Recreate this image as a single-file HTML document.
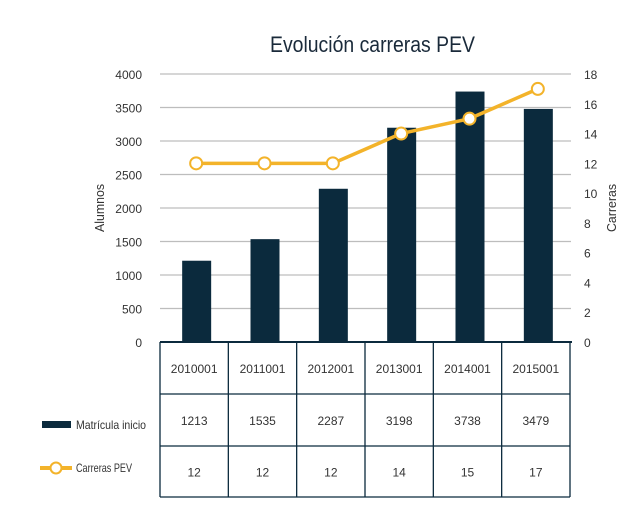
<!DOCTYPE html>
<html><head><meta charset="utf-8"><style>
body{margin:0;background:#fff;}
svg text{font-family:"Liberation Sans Narrow","Liberation Sans",sans-serif;fill:#333;}
</style></head><body>
<svg id="c" width="626" height="515">
<text x="270" y="52" font-size="22" textLength="205" lengthAdjust="spacingAndGlyphs" style="fill:#1a2a3a">Evolución carreras PEV</text>
<g id="grid"></g><g id="bars"></g><g id="line"></g><g id="axes"></g><g id="table"></g>
<text transform="translate(104,208) rotate(-90)" font-size="13" text-anchor="middle" textLength="48" lengthAdjust="spacingAndGlyphs">Alumnos</text>
<text transform="translate(616,208) rotate(-90)" font-size="13" text-anchor="middle" textLength="48" lengthAdjust="spacingAndGlyphs">Carreras</text>
<rect x="42" y="421" width="29" height="7" fill="#0b2a3d"/>
<text x="76" y="429" font-size="12" textLength="70" lengthAdjust="spacingAndGlyphs">Matrícula inicio</text>
<line x1="40" y1="468" x2="72" y2="468" stroke="#f3b32a" stroke-width="4"/>
<circle cx="56" cy="468" r="5.5" fill="#fff" stroke="#f3b32a" stroke-width="2"/>
<text x="76" y="472" font-size="12" textLength="56" lengthAdjust="spacingAndGlyphs">Carreras PEV</text>
</svg>
<script>
const categories=["2010001","2011001","2012001","2013001","2014001","2015001"];
const matricula=[1213,1535,2287,3198,3738,3479];
const carreras=[12,12,12,14,15,17];
const leftTicks=[0,500,1000,1500,2000,2500,3000,3500,4000];
const rightTicks=[0,2,4,6,8,10,12,14,16,18];
const NS="http://www.w3.org/2000/svg";
const X0=160,X1=570,Y0=342,Y1=74,colW=(X1-X0)/categories.length;
const yL=v=>Y0-(v/4000)*(Y0-Y1);
const yR=v=>Y0-(v/18)*(Y0-Y1);
const xC=i=>X0+colW*(i+0.5)+2;
function mk(p,t,a){const e=document.createElementNS(NS,t);for(const k in a)e.setAttribute(k,a[k]);document.getElementById(p).appendChild(e);return e;}
leftTicks.forEach(v=>{
 if(v>0){const g=mk('grid','line',{x1:X0,x2:X1+1,y1:yL(v),y2:yL(v),stroke:'#bdbdbd','stroke-width':1.3});
 
 }
 const t=mk('axes','text',{x:142,y:yL(v)+5,'font-size':12,'text-anchor':'end'});t.textContent=v;
 
 
});
rightTicks.forEach(v=>{
 const t=mk('axes','text',{x:584,y:yR(v)+5,'font-size':12});t.textContent=v;
 
 
});
matricula.forEach((v,i)=>{
 const b=mk('bars','rect',{x:xC(i)-14,y:yL(v),width:29,height:Y0-yL(v),fill:'#0b2a3d'});
 
 
});
const pl=mk('line','polyline',{points:carreras.map((v,i)=>xC(i)+','+yR(v)).join(' '),fill:'none',stroke:'#f3b32a','stroke-width':3.5});


carreras.forEach((v,i)=>{
 const c=mk('line','circle',{cx:xC(i),cy:yR(v),r:6,fill:'#fff',stroke:'#f3b32a','stroke-width':2});
 
 
});
const rows=[342,394,446,497];
mk('table','line',{x1:X0,x2:X1+2,y1:342,y2:342,stroke:'#0b2a3d','stroke-width':2});
rows.slice(1).forEach(y=>mk('table','line',{x1:X0,x2:X1,y1:y,y2:y,stroke:'#0b2a3d','stroke-width':1.3}));
for(let i=0;i<=categories.length;i++)mk('table','line',{x1:X0+colW*i,x2:X0+colW*i,y1:342,y2:497,stroke:'#0b2a3d','stroke-width':1.3});
[categories,matricula,carreras].forEach((arr,r)=>arr.forEach((v,i)=>{
 const t=mk('table','text',{x:X0+colW*(i+0.5),y:(rows[r]+rows[r+1])/2+5,'font-size':12,'text-anchor':'middle'});t.textContent=v;
 
 
}));
</script>
</body></html>
